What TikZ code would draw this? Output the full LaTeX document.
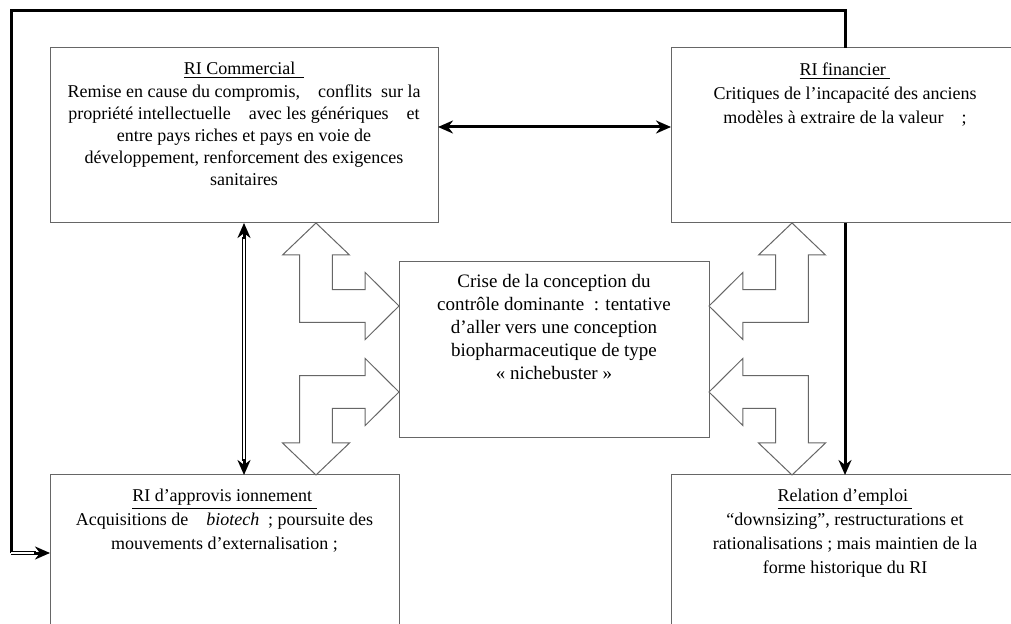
\documentclass[tikz,border=0pt]{standalone}
\usepackage{fontspec}
\setmainfont{Liberation Serif}
\usepackage{tikz}
\usetikzlibrary{arrows.meta, positioning, calc}
\tikzset{
  ri_box/.style={rectangle, draw=black!60, line width=0.5pt, fill=white, inner sep=0pt, outer sep=0pt},
  box_text/.style={align=center, inner sep=0pt, font=\fontsize{9}{12}\selectfont},
  block_arrow/.style={draw=black!60, line width=0.5pt, fill=white},
  thick_arrow/.style={line width=1.5pt, black, >={Stealth[length=7.5pt, width=6.5pt]}},
  double_line/.style={double, double distance=0.6pt, line width=0.5pt, black},
  feedback_line/.style={line width=1.5pt, black}
}

\begin{document}
\begin{tikzpicture}[x=0.5pt, y=-0.5pt]
  \useasboundingbox (0,0) rectangle (1011,624);
  \clip (0,0) rectangle (1011,624);

  % --- 1. Boxes (right and bottom ones run off the page) ---
  \node[ri_box, minimum width=194pt, minimum height=87.5pt] (comm) at (244,135.5) {};
  \node[ri_box, minimum width=174pt, minimum height=87.5pt] (fin) at (845,135.5) {};
  \node[ri_box, minimum width=155pt, minimum height=88pt] (crise) at (554,350) {};
  \node[ri_box, minimum width=174.5pt, minimum height=87.5pt] (approv) at (224.5,562.5) {};
  \node[ri_box, minimum width=174pt, minimum height=87.5pt] (emploi) at (845,562.5) {};

  % --- 2. Texts, hung from the top of each box ---
  \node[box_text, below=7pt of comm.north, font=\fontsize{9}{11.1}\selectfont] (comm_text) {%
    \underline{RI Commercial\ \ }\\
    Remise en cause du compromis,\quad conflits\ \ sur la\\
    propriété intellectuelle\quad avec les génériques\quad et\\
    entre pays riches et pays en voie de\\
    développement, renforcement des exigences\\
    sanitaires};
  \node[box_text, below=7pt of fin.north] (fin_text) {%
    \underline{RI financier\ }\\
    Critiques de l’incapacité des anciens\\
    modèles à\ extraire de la valeur\quad ;};
  \node[box_text, below=6pt of crise.north, font=\fontsize{9.5}{11.5}\selectfont] (crise_text) {%
    Crise de la conception du\\
    contrôle dominante\ \ : tentative\\
    d’aller vers une conception\\
    biopharmaceutique de type\\
    « nichebuster »};
  \node[box_text, below=7pt of approv.north] (approv_text) {%
    \underline{RI d’approvis ionnement\ }\\
    Acquisitions de\quad \textit{biotech}\ \ ; poursuite des\\
    mouvements d’externalisation ;};
  \node[box_text, below=7pt of emploi.north] (emploi_text) {%
    \underline{Relation d’emploi\ }\\
    “downsizing”, restructurations et\\
    rationalisations ; mais maintien de la\\
    forme historique du RI};

  % --- 3. Hollow bent arrows round the centre box ---
  \def\bentArrow{
    \draw[block_arrow] (0,-83) -- (33.5,-51) -- (16.3,-51) -- (16.3,-16.3) -- (49.2,-16.3)
      -- (49.2,-33.5) -- (83,0) -- (49.2,33.5) -- (49.2,16.3) -- (-16.3,16.3)
      -- (-16.3,-51) -- (-33.5,-51) -- cycle;
  }
  \coordinate (bend_ul) at ($(crise.west |- comm.south)+(-83,83)$);
  \coordinate (bend_ll) at ($(crise.west |- approv.north)+(-83,-83)$);
  \coordinate (bend_ur) at ($(crise.east |- fin.south)+(83,83)$);
  \coordinate (bend_lr) at ($(crise.east |- emploi.north)+(83,-83)$);
  \begin{scope}[shift={(bend_ul)}]
    \bentArrow
  \end{scope}
  \begin{scope}[shift={(bend_ll)}, yscale=-1]
    \bentArrow
  \end{scope}
  \begin{scope}[shift={(bend_ur)}, xscale=-1]
    \bentArrow
  \end{scope}
  \begin{scope}[shift={(bend_lr)}, xscale=-1, yscale=-1]
    \bentArrow
  \end{scope}

  % --- 4. Black links ---
  \draw[thick_arrow, <->] ($(comm.east)+(0,-8.5)$) -- ($(fin.west)+(0,-8.5)$);
  \draw[thick_arrow, ->] (fin.south) -- (emploi.north);

  % double line Commercial <-> approvisionnement, solid heads added on top
  \coordinate (dbl_end) at (comm.south |- approv.north);
  \draw[double_line, shorten <=7pt, shorten >=7pt] (comm.south) -- (dbl_end);
  \draw[thick_arrow, ->] ($(comm.south)+(0,16)$) -- (comm.south);
  \draw[thick_arrow, ->] ($(dbl_end)+(0,-16)$) -- (dbl_end);

  % feedback loop round the whole figure
  \coordinate (loop_turn) at (11,553);
  \coordinate (loop_end) at (loop_turn -| approv.west);
  \draw[feedback_line] (fin.north) -- ++(0,-37) -| (loop_turn);
  \draw[double_line, shorten >=7pt] (loop_turn) -- (loop_end);
  \draw[thick_arrow, ->] ($(loop_end)+(-16,0)$) -- (loop_end);
\end{tikzpicture}
\end{document}
